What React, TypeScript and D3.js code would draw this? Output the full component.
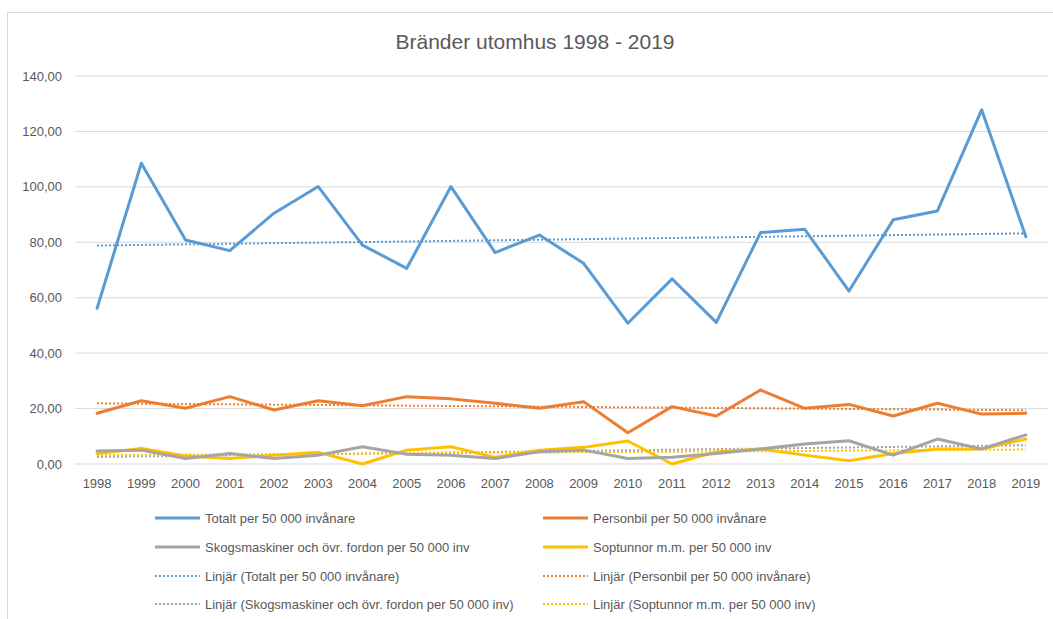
import React from "react";
import * as d3 from "d3";

const years = ["1998","1999","2000","2001","2002","2003","2004","2005","2006","2007","2008","2009","2010","2011","2012","2013","2014","2015","2016","2017","2018","2019"];
const totalt = [56.2,108.5,80.8,77.0,90.5,100.1,79.0,70.6,100.1,76.3,82.6,72.4,50.8,66.8,51.1,83.5,84.7,62.4,88.1,91.3,127.8,82.0];
const personbil = [18.3,22.8,20.1,24.3,19.5,22.8,21.0,24.3,23.5,21.9,20.1,22.5,11.3,20.7,17.3,26.7,20.1,21.5,17.3,21.9,18.0,18.3];
const skog = [4.7,5.0,2.0,3.8,2.0,3.2,6.2,3.5,3.2,2.0,4.4,5.0,2.0,2.4,3.8,5.4,7.2,8.4,3.2,9.0,5.4,10.5];
const sop = [3.8,5.6,2.9,2.0,3.2,4.2,0.0,5.0,6.2,2.4,5.0,6.0,8.3,0.0,4.4,5.4,3.2,1.2,3.8,5.4,5.4,9.0];
const yTicks = [0,20,40,60,80,100,120,140];
const seriesNames = ["Totalt per 50 000 invånare","Personbil per 50 000 invånare","Skogsmaskiner och övr. fordon per 50 000 inv","Soptunnor m.m. per 50 000 inv"];
const colors = ["#5B9BD5","#ED7D31","#A5A5A5","#FFC000"];
const title = "Bränder utomhus 1998 - 2019";

function trend(vals: number[]) {
  const n = vals.length;
  const xs = vals.map((_, i) => i);
  const mx = d3.mean(xs)!;
  const my = d3.mean(vals)!;
  let num = 0, den = 0;
  xs.forEach((x, i) => { num += (x - mx) * (vals[i] - my); den += (x - mx) * (x - mx); });
  const b = num / den;
  const a = my - b * mx;
  return [a, a + b * (n - 1)];
}

export default function App() {
  const W = 1053, H = 619;
  const x = d3.scaleBand<string>().domain(years).range([75, 1048]).padding(0);
  const cx = (yr: string) => (x(yr) as number) + x.bandwidth() / 2;
  const y = d3.scaleLinear().domain([0, 140]).range([464, 76]);
  const data = [totalt, personbil, skog, sop];
  const line = d3.line<number>().x((_, i) => cx(years[i])).y(v => y(v));
  const fmt = (v: number) => v.toFixed(2).replace(".", ",");
  const font = "'Liberation Sans', Arial, sans-serif";
  const textColor = "#595959";

  const legendCols = [155, 543];
  const legendRows = [518, 547, 576, 604];
  const legendItems = [
    ...seriesNames.map((n, i) => ({ label: n, color: colors[i], dotted: false, i })),
    ...seriesNames.map((n, i) => ({ label: `Linjär (${n})`, color: colors[i], dotted: true, i })),
  ];

  return (
    <svg width={W} height={H} style={{ position: "absolute", left: 0, top: 0, background: "#fff" }} fontFamily={font}>
      <rect x={7.5} y={12.5} width={W + 10} height={H + 10} fill="#fff" stroke="#d9d9d9" strokeWidth={1} />
      <text x={535} y={49} textAnchor="middle" fontSize={21} fill={textColor}>{title}</text>
      {yTicks.map(t => (
        <g key={t}>
          <line x1={75} x2={1048} y1={y(t)} y2={y(t)} stroke="#d9d9d9" strokeWidth={1} />
          <text x={62} y={y(t)} dy="0.35em" textAnchor="end" fontSize={13} fill={textColor}>{fmt(t)}</text>
        </g>
      ))}
      {years.map(yr => (
        <text key={yr} x={cx(yr)} y={483} dy="0.35em" textAnchor="middle" fontSize={13} fill={textColor}>{yr}</text>
      ))}
      {data.map((vals, i) => {
        const [a, b] = trend(vals);
        return (
          <line key={"t" + i} x1={cx(years[0])} x2={cx(years[years.length - 1])} y1={y(a)} y2={y(b)}
            stroke={colors[i]} strokeWidth={2} strokeDasharray="2,2" />
        );
      })}
      {data.map((vals, i) => (
        <path key={"s" + i} d={line(vals) || ""} fill="none" stroke={colors[i]} strokeWidth={3} strokeLinejoin="round" strokeLinecap="round" />
      )).reverse()}
      {legendItems.map((it, k) => {
        const col = legendCols[k % 2];
        const row = legendRows[Math.floor(k / 2)];
        return (
          <g key={"l" + k}>
            <line x1={col} x2={col + 45} y1={row} y2={row} stroke={it.color}
              strokeWidth={it.dotted ? 2 : 3} strokeDasharray={it.dotted ? "2,2" : undefined} />
            <text x={col + 50} y={row} dy="0.35em" fontSize={13} fill={textColor}>{it.label}</text>
          </g>
        );
      })}
    </svg>
  );
}
